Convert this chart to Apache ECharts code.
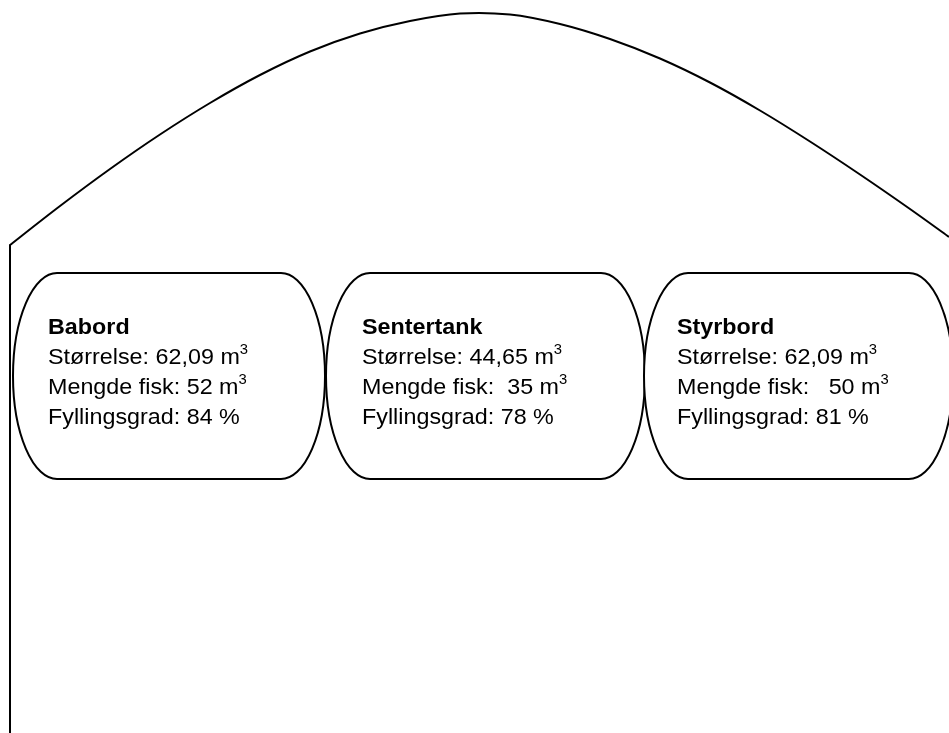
<!DOCTYPE html>
<html>
<head>
<meta charset="utf-8">
<script src="https://cdn.jsdelivr.net/npm/echarts@6/dist/echarts.min.js"></script>
<style>
html,body{margin:0;padding:0;background:#fff;}
#main{width:949px;height:733px;}
</style>
</head>
<body>
<div id="main"></div>
<script>
// ---- data ----
const tankNames = ['Babord', 'Sentertank', 'Styrbord'];
const tankSize = [62.09, 44.65, 62.09];      // m3
const fishAmount = [52, 35, 50];             // m3
const fillPercent = [84, 78, 81];            // %

// hull outline (in drawing units)
const hullWallX = [10, 10];
const hullWallY = [733, 245];
const hullCurveX = [10, 60, 110, 160, 210, 260, 310, 360, 410, 460, 510, 560, 610, 660, 710, 760, 810, 860, 910, 949];
const hullCurveY = [245, 206, 169, 134.5, 103, 75, 51.5, 33.5, 21, 13.5, 14.5, 24, 39, 58.5, 82.5, 110.5, 141.5, 174.5, 209, 237];

// ---- layout (positions, not data) ----
const tankLayout = [
  { left: 13, right: 325, textX: 48 },
  { left: 326, right: 645, textX: 362 },
  { left: 644, right: 953, textX: 677 }
];
const tankTop = 273, tankBottom = 479, tankRx = 44, textTop = 313;
const fishPad = [' ', '  ', '   '];

const fmt = v => v.toFixed(2).replace('.', ',');

const chart = echarts.init(document.getElementById('main'));
const FONT = '"Liberation Sans", Arial, sans-serif';

function hullPath(api) {
  const wall = hullWallX.map((x, i) => api.coord([x, hullWallY[i]]));
  const p = hullCurveX.map((x, i) => api.coord([x, hullCurveY[i]]));
  let d = `M ${wall[0][0]} ${wall[0][1]} L ${wall[1][0]} ${wall[1][1]} L ${p[0][0]} ${p[0][1]}`;
  const n = p.length;
  for (let i = 0; i < n - 1; i++) {
    const a = p[i > 0 ? i - 1 : i], b = p[i], c = p[i + 1], e = p[i + 2 < n ? i + 2 : i + 1];
    const c1 = [b[0] + (c[0] - a[0]) / 6, b[1] + (c[1] - a[1]) / 6];
    const c2 = [c[0] - (e[0] - b[0]) / 6, c[1] - (e[1] - b[1]) / 6];
    d += ` C ${c1[0]} ${c1[1]} ${c2[0]} ${c2[1]} ${c[0]} ${c[1]}`;
  }
  return d;
}

chart.setOption({
  animation: false,
  backgroundColor: '#fff',
  grid: { left: 0, right: 0, top: 0, bottom: 0 },
  xAxis: { type: 'value', min: 0, max: 949, show: false },
  yAxis: { type: 'value', min: 0, max: 733, inverse: true, show: false },
  series: [
    {
      type: 'custom', clip: false, silent: true,
      data: [[0]],
      renderItem: function (params, api) {
        return {
          type: 'path',
          shape: { pathData: hullPath(api) },
          style: { fill: 'none', stroke: '#000', lineWidth: 2, lineJoin: 'miter' }
        };
      }
    },
    {
      type: 'custom', clip: false, silent: true,
      data: tankNames.map((n, i) => [i]),
      renderItem: function (params, api) {
        const i = api.value(0);
        const L = tankLayout[i];
        const tl = api.coord([L.left, tankTop]);
        const br = api.coord([L.right, tankBottom]);
        const rx = api.size([tankRx, 0])[0];
        const ry = (br[1] - tl[1]) / 2;
        const x0 = tl[0] + rx, x1 = br[0] - rx;
        const path = `M ${x0} ${tl[1]} L ${x1} ${tl[1]} A ${rx} ${ry} 0 0 1 ${x1} ${br[1]} L ${x0} ${br[1]} A ${rx} ${ry} 0 0 1 ${x0} ${tl[1]} Z`;
        const tp = api.coord([L.textX, textTop]);
        const text = `{b|${tankNames[i]}}\n{r|Størrelse: ${fmt(tankSize[i])} m}{s|3}\n{r|Mengde fisk:${fishPad[i]}${fishAmount[i]} m}{s|3}\n{r|Fyllingsgrad: ${fillPercent[i]} %}`;
        return {
          type: 'group',
          children: [
            {
              type: 'path',
              shape: { pathData: path },
              style: { fill: '#fff', stroke: '#000', lineWidth: 2 }
            },
            {
              type: 'text',
              x: tp[0], y: tp[1], scaleX: 1.06,
              style: {
                text: text,
                fill: '#000',
                align: 'left', verticalAlign: 'top',
                font: '22px ' + FONT,
                rich: {
                  b: { fontFamily: FONT, fontSize: 22, fontWeight: 'bold', lineHeight: 30, fill: '#000' },
                  r: { fontFamily: FONT, fontSize: 22, lineHeight: 30, fill: '#000' },
                  s: { fontFamily: FONT, fontSize: 14, lineHeight: 12, verticalAlign: 'top', fill: '#000' }
                }
              }
            }
          ]
        };
      }
    }
  ]
});
</script>
</body>
</html>
